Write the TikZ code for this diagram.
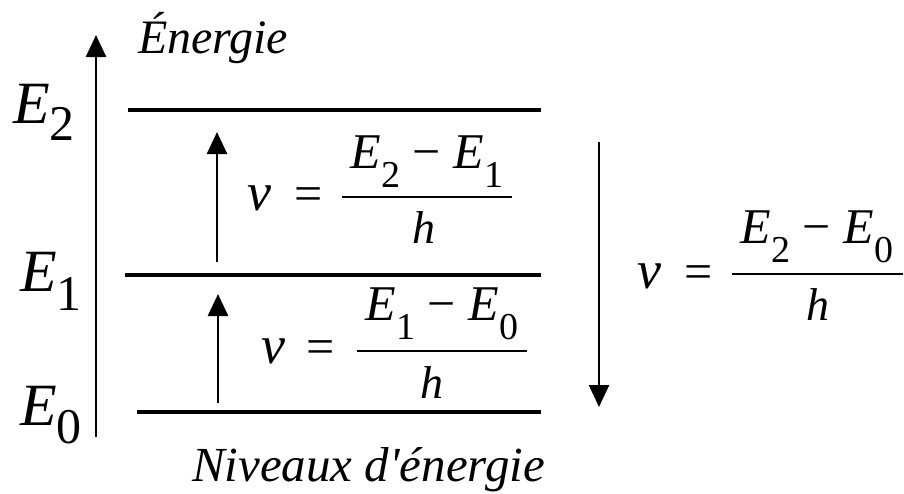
\documentclass[tikz,border=0pt]{standalone}
\usepackage{fontspec}
\setmainfont{Liberation Serif}[Ligatures=TeXOff]
\usetikzlibrary{arrows.meta}
\newcommand{\fsz}[1]{\fontsize{#1}{#1}\selectfont}
\newcommand{\fsub}[1]{\raisebox{-19pt}{\fsz{38}\upshape #1}}
\newcommand{\lsub}[2]{\raisebox{-#1pt}{\fsz{50}\upshape #2}}
\begin{document}
\begin{tikzpicture}[x=1pt,y=-1pt,
  txt/.style={inner sep=0pt, outer sep=0pt, anchor=base west},
  ctxt/.style={inner sep=0pt, outer sep=0pt, anchor=base},
  level/.style={line width=3.5pt},
  arr/.style={line width=2.5pt, -{Triangle[width=20pt,length=22pt]}},
  fbar/.style={line width=2.2pt}]
\useasboundingbox[fill=white] (0,0) rectangle (904,493);

% axis and titles
\coordinate (axb) at (96,437);
\coordinate (axt) at (96,35);
\draw[arr] (axb) -- (axt);
\node[txt] (title) at (138,53) {\fsz{48}\itshape Énergie};
\node[txt] (niv) at (192,481) {\fsz{49}\itshape Niveaux d'énergie};

% level labels
\node[txt] (E2) at (13,123) {\fsz{60}\itshape E\lsub{17}{2}};
\node[txt] (E1) at (20,291) {\fsz{60}\itshape E\lsub{19}{1}};
\node[txt] (E0) at (20,425) {\fsz{60}\itshape E\lsub{18}{0}};

% levels
\coordinate (L2a) at (128,110); \coordinate (L2b) at (541,110);
\coordinate (L1a) at (125,275); \coordinate (L1b) at (541,275);
\coordinate (L0a) at (137,412); \coordinate (L0b) at (541,412);
\draw[level] (L2a) -- (L2b);
\draw[level] (L1a) -- (L1b);
\draw[level] (L0a) -- (L0b);

% transition arrows
\coordinate (u1s) at (217,262); \coordinate (u1e) at (217,132);
\coordinate (u0s) at (218,403); \coordinate (u0e) at (218,294);
\coordinate (ds) at (599,142); \coordinate (de) at (599,407);
\draw[arr] (u1s) -- (u1e);
\draw[arr] (u0s) -- (u0e);
\draw[arr] (ds) -- (de);

% formula 1
\node[txt] (nu1) at (247,210) {\fsz{54}\itshape ν};
\node[txt] (eq1) at (294,210) {\fsz{50}=};
\node[ctxt] (n1) at (427,168) {\fsz{50}\itshape E\fsub{2} \upshape − \itshape E\fsub{1}};
\node[ctxt] (d1) at (424,243) {\fsz{46}\itshape h};
\coordinate (b1a) at (342,197); \coordinate (b1b) at (512,197);
\draw[fbar] (b1a) -- (b1b);

% formula 2
\node[txt] (nu2) at (261,363) {\fsz{54}\itshape ν};
\node[txt] (eq2) at (306,363) {\fsz{50}=};
\node[ctxt] (n2) at (442,320) {\fsz{50}\itshape E\fsub{1} \upshape − \itshape E\fsub{0}};
\node[ctxt] (d2) at (432,398) {\fsz{46}\itshape h};
\coordinate (b2a) at (357,351); \coordinate (b2b) at (527,351);
\draw[fbar] (b2a) -- (b2b);

% formula 3
\node[txt] (nu3) at (637,288) {\fsz{54}\itshape ν};
\node[txt] (eq3) at (684,288) {\fsz{50}=};
\node[ctxt] (n3) at (817,243) {\fsz{50}\itshape E\fsub{2} \upshape − \itshape E\fsub{0}};
\node[ctxt] (d3) at (818,320) {\fsz{46}\itshape h};
\coordinate (b3a) at (732,274); \coordinate (b3b) at (903,274);
\draw[fbar] (b3a) -- (b3b);
\end{tikzpicture}
\end{document}
